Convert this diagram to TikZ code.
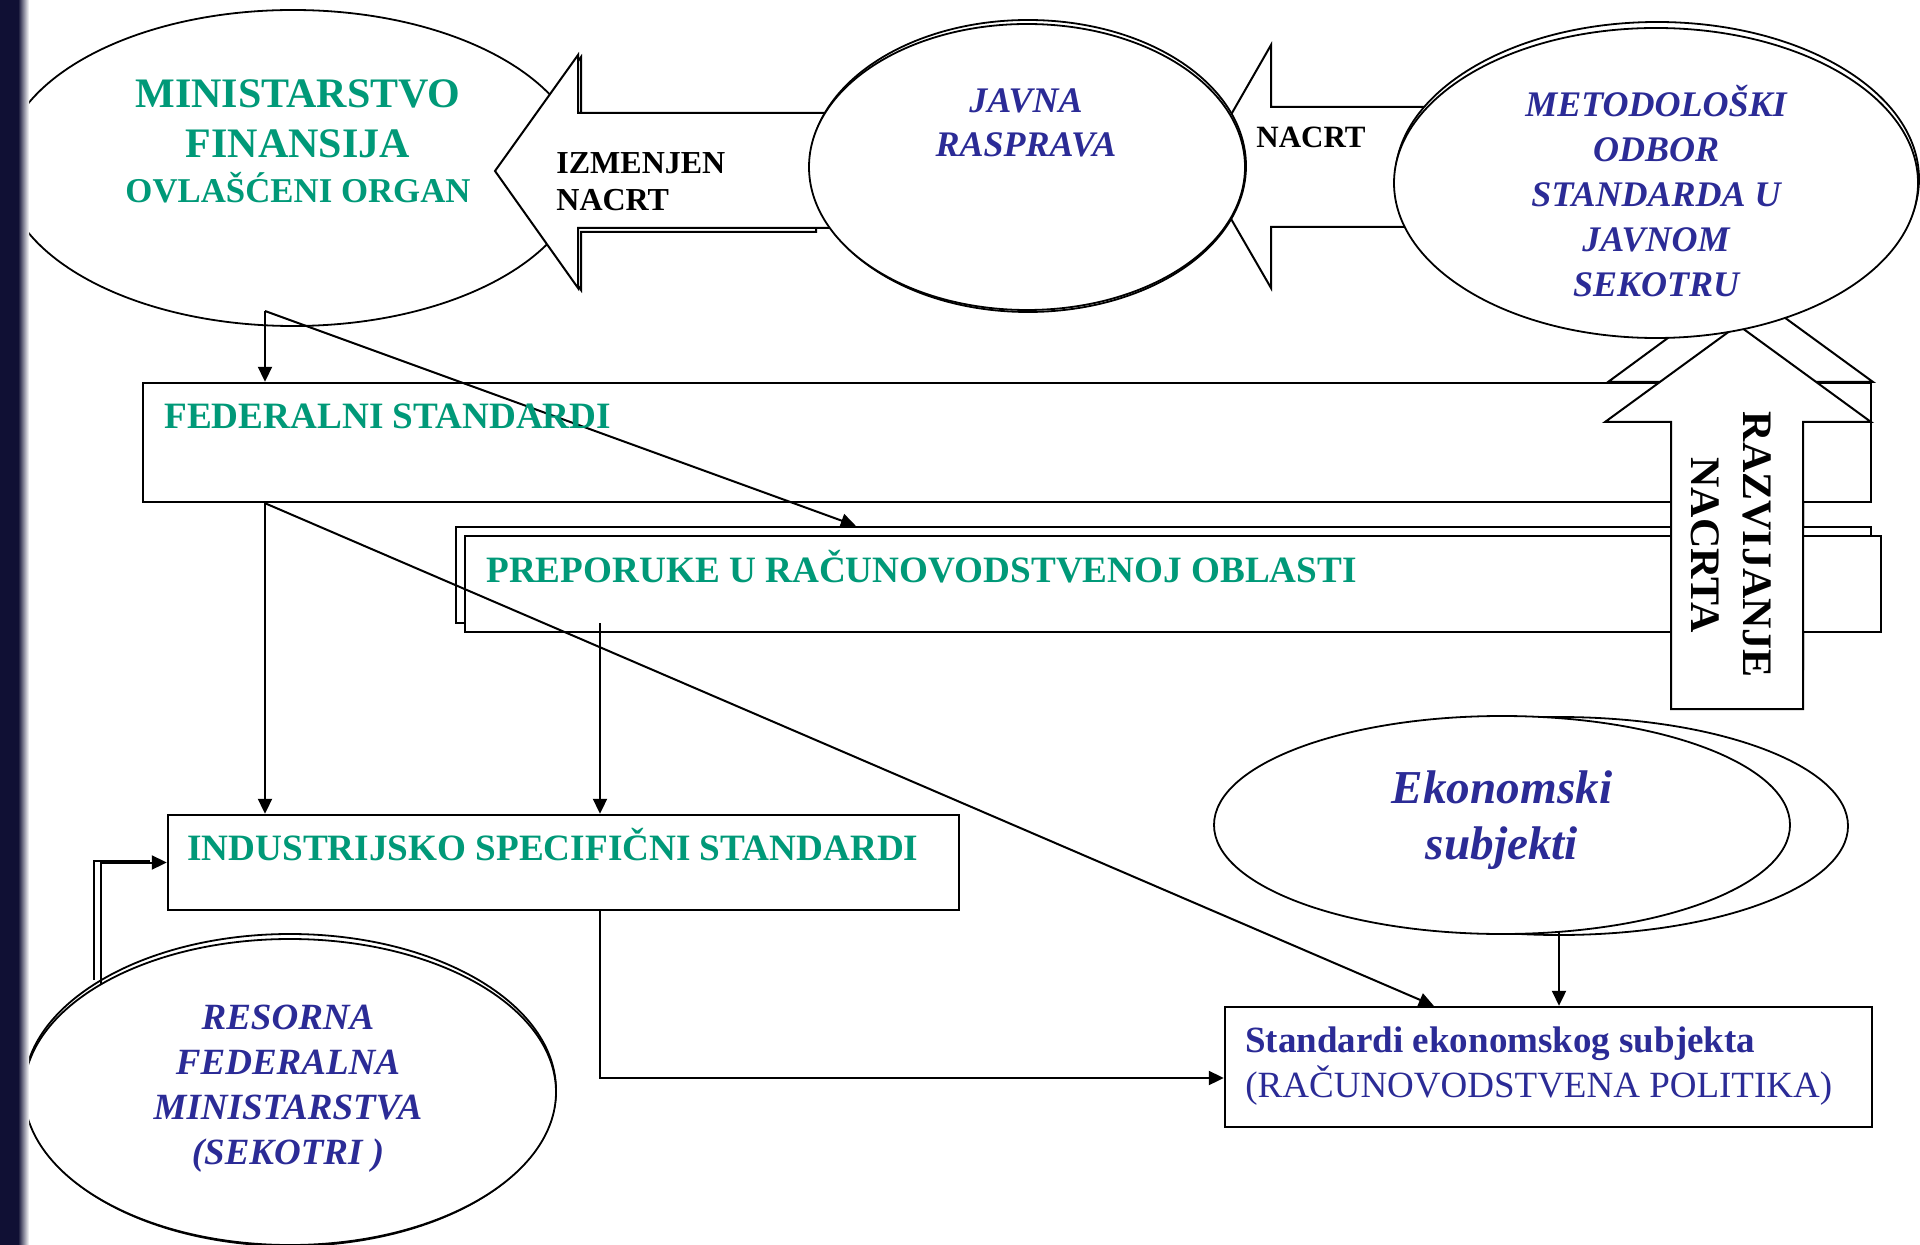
\documentclass[tikz,border=0pt]{standalone}
\usepackage{fontspec}
\setmainfont{Liberation Serif}
\usetikzlibrary{shapes.geometric,arrows.meta,fit,calc}
\definecolor{tgreen}{RGB}{0,153,120}
\definecolor{tblue}{RGB}{43,43,150}
\definecolor{navybar}{RGB}{16,16,52}
\begin{document}
\begin{tikzpicture}[x=0.5pt,y=-0.5pt,
  ell/.style={ellipse,draw=black,fill=white,line width=0.9pt,inner sep=0pt},
  boxr/.style={rectangle,draw=black,fill=white,line width=1.2pt,inner sep=0pt},
  blockarrow/.style={draw=black,fill=white,line width=1pt,line join=miter},
  conn/.style={draw=black,line width=1pt,-{Triangle[length=7.5pt,width=7pt]}},
  plainline/.style={draw=black,line width=1pt},
  gtxt/.style={inner sep=0pt,text=tgreen,font=\bfseries\fontsize{18.6}{22.5}\selectfont},
  btxt/.style={inner sep=0pt,text=tblue,align=center,font=\bfseries\itshape\fontsize{18}{22.5}\selectfont},
  ktxt/.style={inner sep=0pt,text=black,font=\bfseries\fontsize{16}{18.5}\selectfont}
]
\useasboundingbox (0,0) rectangle (1920,1245);
\fill[white] (0,0) rectangle (1920,1245);

% Ministarstvo ellipse
\node[ell,minimum width=290pt,minimum height=158pt] (min) at (293,168) {};

% IZMENJEN NACRT block arrow (shadow + main)
\draw[blockarrow] (498,173) -- (581,57) -- (581,115) -- (816,115) -- (816,232) -- (581,232) -- (581,290) -- cycle;
\draw[blockarrow] (495,171) -- (578,55) -- (578,113) -- (840,113) -- (840,228) -- (578,228) -- (578,288) -- cycle;

% NACRT block arrow
\draw[blockarrow] (1201,167) -- (1271,45) -- (1271,107) -- (1460,107) -- (1460,227) -- (1271,227) -- (1271,288) -- cycle;

% Javna rasprava ellipse (shadow + main)
\node[ell,minimum width=218pt,minimum height=146pt] (javS) at (1028,166) {};
\node[ell,minimum width=218pt,minimum height=143pt] (jav) at (1027,167) {};

% up arrow shadow
\draw[blockarrow] (1740,285) -- (1873,382) -- (1803,382) -- (1803,669) -- (1671,669) -- (1671,382) -- (1608,382) -- cycle;

% boxes
\node[boxr,fit={(143,383) (1871,502)}] (fed) {};
\node[boxr,fit={(456,527) (1871,623)}] (prepB) {};
\node[boxr,fit={(465,536) (1881,632)}] (prep) {};

% main up arrow
\draw[blockarrow] (1738,325) -- (1871,422) -- (1803,422) -- (1803,709) -- (1671,709) -- (1671,422) -- (1605,422) -- cycle;

% Metodoloski ellipse (shadow + main)
\node[ell,minimum width=262pt,minimum height=157pt] (metS) at (1657,179) {};
\node[ell,minimum width=262pt,minimum height=155pt] (met) at (1656,183) {};

% lower boxes
\node[boxr,fit={(168,815) (959,910)}] (ind) {};
\node[boxr,fit={(1225,1007) (1872,1127)}] (std) {};

% Ekonomski subjekti ellipses
\node[ell,minimum width=289pt,minimum height=109pt] (ekB) at (1559,826) {};
\node[ell,minimum width=288pt,minimum height=109pt] (ek) at (1502,825) {};

% Resorna ellipse (shadow + main)
\node[ell,minimum width=266pt,minimum height=156pt] (resS) at (290,1090) {};
\node[ell,minimum width=266pt,minimum height=153pt] (res) at (290,1092) {};

% connector points
\coordinate (m1) at (265,311);
\coordinate (p1) at (600,623);
\coordinate (e1) at (1559,932);
\coordinate (r1) at (101,985);
\coordinate (r0) at (94,980);

% connectors
\draw[conn] (m1) -- (m1 |- fed.north);
\draw[conn] (m1) -- ([xshift=200.5pt]prepB.north west);
\draw[conn] (fed.south -| m1) -- (ind.north -| m1);
\draw[conn] (fed.south -| m1) -- ([xshift=105pt]std.north west);
\draw[conn] (p1) -- (ind.north -| p1);
\draw[conn] (ind.south -| p1) |- ([yshift=-5.5pt]std.west);
\draw[conn] (e1) -- (std.north -| e1);
\draw[plainline] (r0) -- (94,861) -- (150,861);
\draw[conn] (r1) |- (ind.west);

% texts
\node[inner sep=0pt,text=tgreen,align=center,font=\bfseries\fontsize{21}{25}\selectfont] (mintxt) at (298,119) {MINISTARSTVO\\FINANSIJA};
\node[inner sep=0pt,text=tgreen,anchor=base,font=\bfseries\fontsize{17.4}{21}\selectfont] (mintxt2) at (298,203) {OVLAŠĆENI ORGAN};
\node[ktxt,align=left,anchor=west] (izmtxt) at (556,182) {IZMENJEN\\NACRT};
\node[inner sep=0pt,anchor=base,font=\bfseries\fontsize{15.5}{18}\selectfont] (nacrttxt) at (1311,148) {NACRT};
\node[btxt,font=\bfseries\itshape\fontsize{18}{22}\selectfont] (javtxt) at (1026,123) {JAVNA\\RASPRAVA};
\node[btxt] (mettxt) at (1656,191) {METODOLOŠKI\\ODBOR\\STANDARDA U\\JAVNOM\\SEKOTRU};
\node[gtxt,anchor=base west] (fedtxt) at (164,429) {FEDERALNI STANDARDI};
\node[gtxt,anchor=base west] (preptxt) at (486,582) {PREPORUKE U RAČUNOVODSTVENOJ OBLASTI};
\node[gtxt,anchor=base west] (indtxt) at (187,860) {INDUSTRIJSKO SPECIFIČNI STANDARDI};
\node[inner sep=0pt,text=tblue,align=left,anchor=west,font=\fontsize{18.5}{22.5}\selectfont] (stdtxt) at (1245,1066) {\textbf{Standardi ekonomskog subjekta}\\(RAČUNOVODSTVENA POLITIKA)};
\node[btxt,font=\bfseries\itshape\fontsize{23.6}{28}\selectfont] (ektxt) at (1502,820) {Ekonomski\\subjekti};
\node[btxt,font=\bfseries\itshape\fontsize{18.5}{22.5}\selectfont] (restxt) at (288,1089) {RESORNA\\FEDERALNA\\MINISTARSTVA\\(SEKOTRI )};
\node[inner sep=0pt,rotate=-90,align=center,font=\bfseries\fontsize{21}{26}\selectfont] (razvtxt) at (1731,545) {RAZVIJANJE\\NACRTA};

% left bar
\fill[navybar] (0,0) rectangle (18,1245);
\shade[left color=navybar,right color=white] (18,0) rectangle (29,1245);
\end{tikzpicture}
\end{document}
